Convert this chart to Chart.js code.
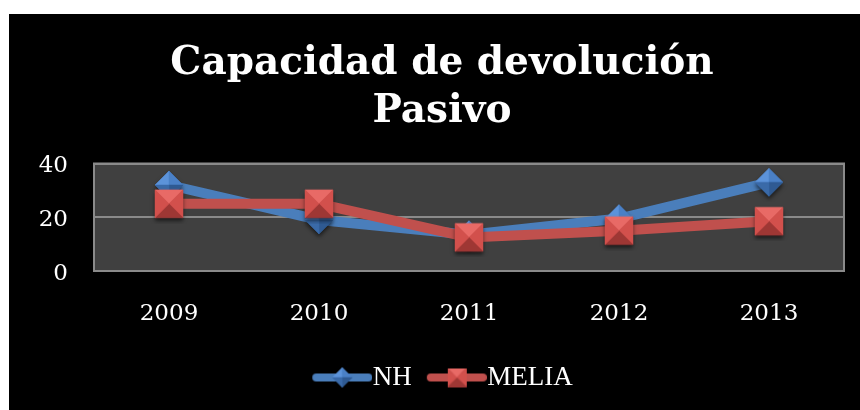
<!DOCTYPE html>
<html>
<head>
<meta charset="utf-8">
<script src="https://cdn.jsdelivr.net/npm/chart.js@4"></script>
<style>
  html, body { margin: 0; padding: 0; background: #fff; }
  #wrap { position: absolute; left: 9px; top: 14px; width: 851px; height: 396px; background: #000; }
</style>
</head>
<body>
<div id="wrap"><canvas id="chart"></canvas></div>
<script>
// chart data
const years = ['2009', '2010', '2011', '2012', '2013'];
const nhValues = [32, 19, 13.5, 19.5, 33];
const meliaValues = [25, 25, 12.5, 15, 18.5];
const yTicks = [0, 20, 40];

const BLUE = '#4a7ebb';
const RED = '#c0504d';
const blueShades = ['#5c93da', '#4a80c6', '#3a6aa8', '#2f5a92'];
const redShades = ['#e86a66', '#d2504c', '#b94441', '#9e3734'];

// bevelled (pyramid) marker drawn into a small canvas, with a soft shadow
function makeMarker(shape, size, shades, pad) {
  const [light, mid, dark, darker] = shades;
  const c = document.createElement('canvas');
  c.width = size + pad * 2; c.height = size + pad * 2;
  const g = c.getContext('2d');
  g.translate(pad, pad);
  const h = size / 2;
  const pts = shape === 'diamond'
    ? [[h, 0], [size, h], [h, size], [0, h]]
    : [[0, 0], [size, 0], [size, size], [0, size]];
  // shadow
  if (pad > 0) {
    g.save();
    g.shadowColor = 'rgba(0,0,0,0.6)';
    g.shadowBlur = 4;
    g.shadowOffsetY = 3;
    g.beginPath();
    g.moveTo(pts[0][0], pts[0][1]);
    for (let i = 1; i < 4; i++) g.lineTo(pts[i][0], pts[i][1]);
    g.closePath();
    g.fillStyle = darker;
    g.fill();
    g.restore();
  }
  const faces = shape === 'diamond'
    ? [[3, 0, light], [0, 1, mid], [1, 2, darker], [2, 3, dark]]
    : [[0, 1, light], [1, 2, mid], [2, 3, darker], [3, 0, mid]];
  faces.forEach(([a, b, col]) => {
    g.beginPath();
    g.moveTo(h, h);
    g.lineTo(pts[a][0], pts[a][1]);
    g.lineTo(pts[b][0], pts[b][1]);
    g.closePath();
    g.fillStyle = col;
    g.fill();
    g.strokeStyle = col;
    g.lineWidth = 0.5;
    g.stroke();
  });
  return c;
}

// legend swatch: blank lead-in, rounded line, marker on top
const LEGEND_LEAD = 14;
function makeLegendIcon(marker, color) {
  const c = document.createElement('canvas');
  c.width = 60 + LEGEND_LEAD; c.height = 26;
  const g = c.getContext('2d');
  g.translate(LEGEND_LEAD, 0);
  g.strokeStyle = color;
  g.lineWidth = 8;
  g.lineCap = 'round';
  g.beginPath();
  g.moveTo(4, 13);
  g.lineTo(56, 13);
  g.stroke();
  g.drawImage(marker, 30 - marker.width / 2, 13 - marker.height / 2);
  return c;
}

const nhMarker = makeMarker('diamond', 28, blueShades, 6);
const meliaMarker = makeMarker('square', 28, redShades, 6);
const nhLegend = makeLegendIcon(makeMarker('diamond', 20, blueShades, 0), BLUE);
const meliaLegend = makeLegendIcon(makeMarker('square', 19, redShades, 0), RED);

// grey plot area with border
const plotBackground = {
  id: 'plotBackground',
  beforeDraw(chart) {
    const { ctx, chartArea: a } = chart;
    ctx.save();
    ctx.fillStyle = '#404040';
    ctx.fillRect(a.left, a.top, a.right - a.left, a.bottom - a.top);
    ctx.restore();
  },
  beforeDatasetsDraw(chart) {
    const { ctx, chartArea: a } = chart;
    ctx.save();
    ctx.strokeStyle = '#8a8a8a';
    ctx.lineWidth = 2;
    ctx.strokeRect(a.left, a.top, a.right - a.left, a.bottom - a.top);
    ctx.restore();
  }
};

const ctx = document.getElementById('chart').getContext('2d');
new Chart(ctx, {
  type: 'line',
  data: {
    labels: years,
    datasets: [
      {
        label: 'NH',
        data: nhValues,
        borderColor: BLUE,
        borderWidth: 10,
        pointStyle: nhMarker,
        tension: 0,
        order: 1
      },
      {
        label: 'MELIA',
        data: meliaValues,
        borderColor: RED,
        borderWidth: 10,
        pointStyle: meliaMarker,
        tension: 0,
        order: 0
      }
    ]
  },
  options: {
    responsive: true,
    maintainAspectRatio: false,
    animation: false,
    layout: { padding: { left: 15, right: 0, top: 0, bottom: 9 } },
    plugins: {
      title: {
        display: true,
        text: ['Capacidad de devolución', 'Pasivo'],
        color: '#fff',
        font: { family: 'DejaVu Serif', size: 39, weight: 'bold', lineHeight: 1.25 },
        padding: { top: 25, bottom: 27 }
      },
      legend: {
        position: 'bottom',
        labels: {
          color: '#fff',
          font: { family: 'Liberation Serif', size: 27 },
          usePointStyle: true,
          pointStyleWidth: 34 + LEGEND_LEAD,
          padding: 14,
          generateLabels(chart) {
            return chart.data.datasets.map((ds, i) => ({
              text: ds.label,
              fontColor: '#fff',
              pointStyle: i === 0 ? nhLegend : meliaLegend,
              datasetIndex: i,
              lineWidth: 0,
              hidden: false
            }));
          }
        }
      },
      tooltip: { enabled: false }
    },
    scales: {
      x: {
        offset: true,
        grid: { display: false, drawTicks: false },
        border: { display: false },
        ticks: {
          color: '#fff',
          font: { family: 'DejaVu Serif', size: 23 },
          padding: 29
        },
        afterFit(scale) { scale.height = 79; }
      },
      y: {
        min: 0,
        max: 40,
        afterBuildTicks(scale) { scale.ticks = yTicks.map(v => ({ value: v })); },
        grid: { color: '#8a8a8a', lineWidth: 2, drawTicks: false },
        border: { display: false },
        ticks: {
          color: '#fff',
          font: { family: 'DejaVu Serif', size: 23 },
          padding: 26,
          labelOffset: 3
        },
        afterFit(scale) { scale.width = 70; }
      },
      // empty right-hand axis, only reserves the margin right of the plot
      yRight: {
        position: 'right',
        min: 0,
        max: 40,
        grid: { display: false, drawTicks: false },
        border: { display: false },
        ticks: { display: false },
        afterFit(scale) { scale.width = 16; }
      }
    }
  },
  plugins: [plotBackground]
});
</script>
</body>
</html>
